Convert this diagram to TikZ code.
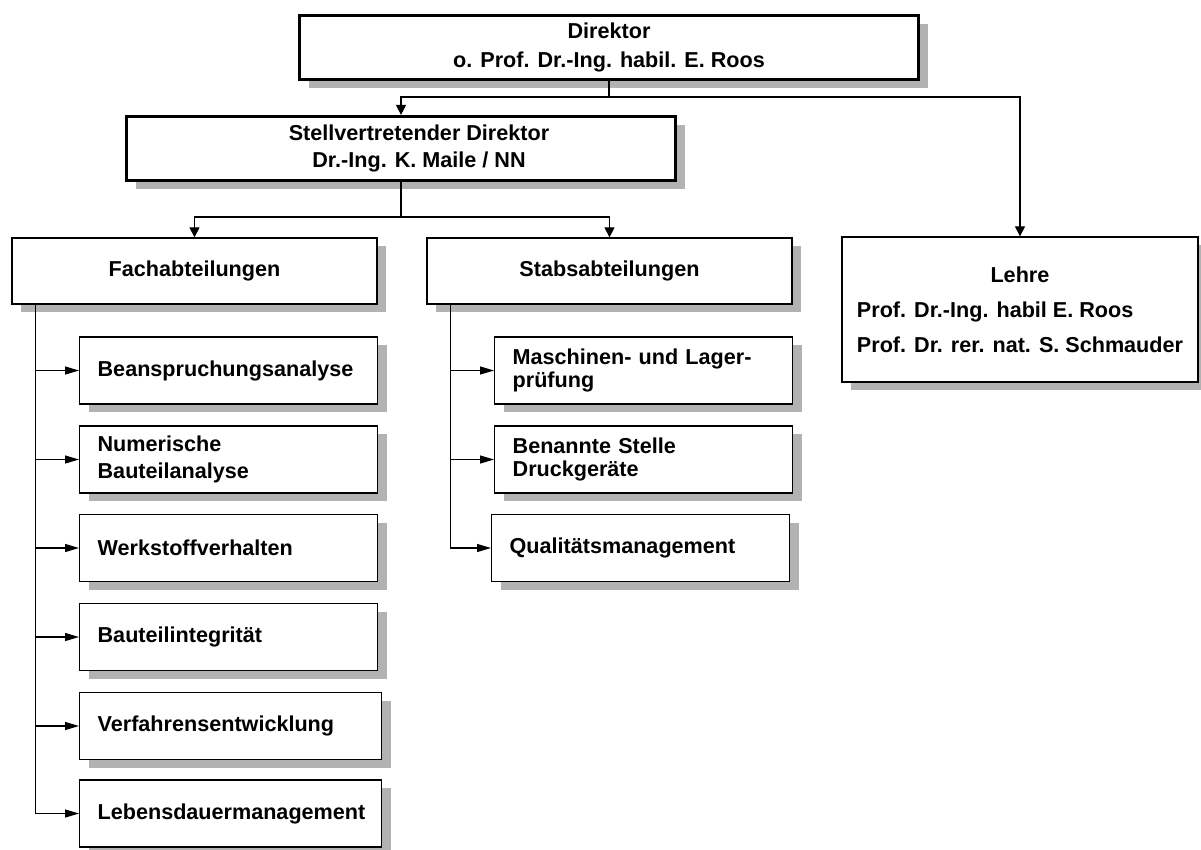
\documentclass[tikz,border=0pt]{standalone}
\usepackage{fontspec}
\setmainfont{Liberation Sans}
\usetikzlibrary{arrows.meta,shadows}
\begin{document}
\begin{tikzpicture}[x=1pt,y=-1pt]
    % Stile
    \tikzstyle{box}=[draw, fill=white, line width=1.3pt, inner ysep=2pt,
        font=\bfseries\fontsize{21.6}{27.5}\selectfont,
        drop shadow={shadow xshift=9pt, shadow yshift=-8pt, fill=black!30, opacity=1}]
    \tikzstyle{chef}=[box, line width=3.2pt, minimum height=64pt, align=center]
    \tikzstyle{abt}=[box, minimum height=66pt, align=center]
    \tikzstyle{sub}=[box, anchor=west, minimum height=67pt, inner xsep=18pt, text width=262pt, align=left]
    \tikzstyle{subeng}=[sub, font=\bfseries\fontsize{21.6}{23.5}\selectfont]
    \tikzstyle{link}=[line width=1.2pt]
    \tikzstyle{darr}=[link, -{Triangle[length=10pt,width=10pt]}]
    \tikzstyle{rarr}=[link, -{Triangle[length=14pt,width=8pt]}]

    \useasboundingbox (0,0) rectangle (1201,849);

    % 1. Leitung
    \node[chef, minimum width=619pt] (dir) at (609,47.5) {Direktor\\[2pt]o. Prof. Dr.-Ing. habil. E. Roos};
    \node[chef, minimum width=549pt] (stv) at (401,148.5)
        {\hspace*{36pt}Stellvertretender Direktor\\\hspace*{36pt}Dr.-Ing. K. Maile / NN};

    % 2. Abteilungen und Lehre
    \node[abt, minimum width=365pt] (fach) at (194.5,271) {Fachabteilungen};
    \node[abt, minimum width=365pt] (stab) at (609.5,271) {Stabsabteilungen};
    \node[box, minimum width=356pt, minimum height=145pt, align=left,
          font=\bfseries\fontsize{21.6}{35}\selectfont] (lehre) at (1020,309.5)
        {\makebox[326pt]{Lehre}\\Prof. Dr.-Ing. habil E. Roos\\Prof. Dr. rer. nat. S. Schmauder};

    % 3. Fachabteilungen
    \node[sub] (beans) at (79,370.5) {Beanspruchungsanalyse};
    \node[sub] (numer) at (79,459.5) {Numerische\\Bauteilanalyse};
    \node[sub] (werk) at (79,548) {Werkstoffverhalten};
    \node[sub] (integ) at (79,637) {Bauteilintegrität};
    \node[sub, text width=266pt] (verf) at (79,726) {Verfahrensentwicklung};
    \node[sub, text width=266pt] (leben) at (79,813.5) {Lebensdauermanagement};

    % 4. Stabsabteilungen
    \node[subeng] (masch) at (494,370.5) {Maschinen- und Lager-\\prüfung};
    \node[subeng] (stelle) at (494,459.5) {Benannte Stelle\\Druckgeräte};
    \node[sub] (quali) at (491,548) {Qualitätsmanagement};

    % 5. Verbindungen
    \coordinate (bus1) at (609,97);
    \draw[darr] (dir.south) -- (bus1) -| (stv.north);
    \draw[darr] (dir.south) -- (bus1) -| (lehre.north);
    \coordinate (bus2) at (401,217);
    \draw[darr] (stv.south) -- (bus2) -| (fach.north);
    \draw[darr] (stv.south) -- (bus2) -| (stab.north);

    \coordinate (fachbus) at ([xshift=24pt]fach.south west);
    \foreach \n in {beans,numer,werk,integ,verf,leben}
        \draw[rarr] (fachbus) |- (\n.west);
    \coordinate (stabbus) at ([xshift=24pt]stab.south west);
    \foreach \n in {masch,stelle,quali}
        \draw[rarr] (stabbus) |- (\n.west);
\end{tikzpicture}
\end{document}
